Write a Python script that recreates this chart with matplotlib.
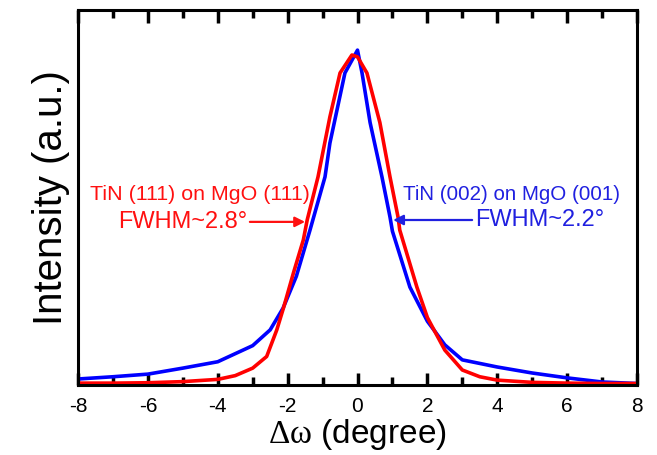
import matplotlib.pyplot as plt
from matplotlib.ticker import MultipleLocator

plt.rcParams['font.family'] = ['Liberation Sans', 'DejaVu Sans']
plt.rcParams['axes.unicode_minus'] = False
plt.rcParams['mathtext.fontset'] = 'custom'
plt.rcParams['mathtext.rm'] = 'Liberation Serif'
plt.rcParams['mathtext.it'] = 'Liberation Serif'

# rocking curves (normalised intensity)
omega_111 = [-8, -7, -6, -5, -4, -3.5, -3, -2.6, -2.31, -2.12, -1.83, -1.55, -1.44, -1.13,
             -0.79, -0.5, -0.16, 0.0, 0.27, 0.64, 0.93, 1.16, 1.21, 1.7, 2.0, 2.2, 2.5,
             3.0, 3.5, 4, 5, 6, 7, 8]
int_111 = [0.005, 0.005, 0.006, 0.009, 0.015, 0.025, 0.045, 0.076, 0.147, 0.205, 0.30, 0.387,
           0.44, 0.555, 0.715, 0.832, 0.88, 0.875, 0.832, 0.70, 0.555, 0.448, 0.413, 0.261,
           0.18, 0.145, 0.093, 0.04, 0.022, 0.013, 0.007, 0.005, 0.004, 0.004]

omega_002 = [-8, -7, -6, -5, -4, -3, -2.5, -2.13, -1.75, -1.36, -0.93, -0.79, -0.36, 0.0,
             0.13, 0.36, 0.7, 0.93, 1.0, 1.5, 2.0, 2.2, 2.5, 3.0, 4, 5, 6, 7, 8]
int_002 = [0.016, 0.022, 0.029, 0.045, 0.062, 0.105, 0.147, 0.205, 0.29, 0.413, 0.555, 0.645,
           0.832, 0.893, 0.832, 0.70, 0.555, 0.448, 0.41, 0.261, 0.17, 0.145, 0.107, 0.067,
           0.048, 0.032, 0.019, 0.008, 0.004]

fig, ax = plt.subplots(figsize=(6.57, 4.55), dpi=100)
fig.subplots_adjust(left=78 / 657, right=637 / 657, bottom=70 / 455, top=445 / 455)

ax.plot(omega_002, int_002, color='#0000ff', lw=2.6)
ax.plot(omega_111, int_111, color='#ff0000', lw=2.6)

ax.set_xlim(-8, 8)
ax.set_ylim(0, 1)
ax.set_xticks([-8, -6, -4, -2, 0, 2, 4, 6, 8])
ax.set_xticks([-7, -5, -3, -1, 1, 3, 5, 7], minor=True)
ax.set_yticks([])
ax.tick_params(axis='x', which='both', direction='in', top=True, bottom=True,
               color='black', width=2.5, labelsize=15, pad=9)
ax.tick_params(axis='x', which='major', length=9)
ax.tick_params(axis='x', which='minor', length=6)
for s in ax.spines.values():
    s.set_linewidth(2.2)

ax.set_xlabel(r'$\Delta\omega$ (degree)', fontsize=24, labelpad=0)
ax.set_ylabel('Intensity (a.u.)', fontsize=29, labelpad=6)

red = '#ff1010'
blue = '#2020e0'
ax.text(-1.36, 0.507, 'TiN (111) on MgO (111)', color=red, fontsize=15.4,
        ha='right', va='center')
ax.annotate('FWHM~2.8°', xy=(-1.5, 0.435), xytext=(-3.16, 0.435), color=red,
            fontsize=17, ha='right', va='center',
            arrowprops=dict(arrowstyle='-|>', color=red, lw=1.6, mutation_scale=15,
                            shrinkA=0, shrinkB=0))

ax.text(1.30, 0.507, 'TiN (002) on MgO (001)', color=blue, fontsize=14.8,
        ha='left', va='center')
ax.annotate('FWHM~2.2°', xy=(1.02, 0.44), xytext=(3.36, 0.44), color=blue,
            fontsize=17, ha='left', va='center',
            arrowprops=dict(arrowstyle='-|>', color=blue, lw=1.6, mutation_scale=15,
                            shrinkA=0, shrinkB=0))

fig.savefig('out.png', dpi=100)
